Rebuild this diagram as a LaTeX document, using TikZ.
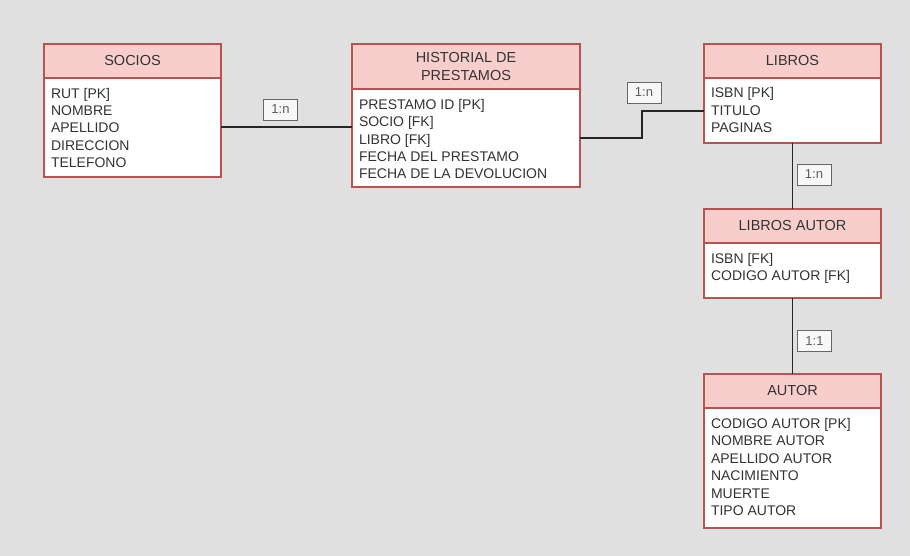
\documentclass[tikz,border=0pt]{standalone}
\usepackage{fontspec}
\setmainfont{Liberation Sans}
\definecolor{bgcol}{HTML}{E0E0E0}
\definecolor{thead}{HTML}{F8CECC}
\definecolor{tborder}{HTML}{B85450}
\definecolor{tcol}{HTML}{333333}
\definecolor{lblfill}{HTML}{F7F7F7}
\definecolor{lbldraw}{HTML}{666666}
\begin{document}
\begin{tikzpicture}[x=1pt,y=-1pt,
  hdr/.style={rectangle, draw=tborder, fill=thead, line width=1.5pt, inner sep=0pt, outer sep=0pt,
    anchor=north west, text=tcol, align=center, font=\fontsize{14.5}{18.4}\selectfont},
  bodybox/.style={rectangle, draw=tborder, fill=white, line width=1.5pt, inner sep=0pt, outer sep=0pt,
    anchor=north west},
  fields/.style={anchor=north west, inner sep=0pt, outer sep=0pt, align=left, text=tcol,
    font=\fontsize{14}{17.5}\selectfont},
  conn/.style={draw=black!85, line width=1.2pt},
  lbl/.style={rectangle, draw=lbldraw, fill=lblfill, line width=0.8pt, minimum width=34pt,
    minimum height=21pt, inner sep=0pt, text=tcol!80, font=\fontsize{13}{15}\selectfont}
]
\useasboundingbox[fill=bgcol] (0,0) rectangle (910,556);

% SOCIOS
\node[hdr, minimum width=177pt, minimum height=34pt] (soc-h) at (44,44) {SOCIOS};
\node[bodybox, minimum width=177pt, minimum height=99pt] (soc-b) at (44,78) {};
\node[fields] (soc-f) at (51,86) {\rule{0pt}{12pt}RUT [PK]\\NOMBRE\\APELLIDO\\DIRECCION\\TELEFONO};

% HISTORIAL
\node[hdr, minimum width=228pt, minimum height=45pt] (his-h) at (352,44) {HISTORIAL DE\\PRESTAMOS};
\node[bodybox, minimum width=228pt, minimum height=98pt] (his-b) at (352,89) {};
\node[fields] (his-f) at (359,97) {\rule{0pt}{12pt}PRESTAMO ID [PK]\\SOCIO [FK]\\LIBRO [FK]\\FECHA DEL PRESTAMO\\FECHA DE LA DEVOLUCION};

% LIBROS
\node[hdr, minimum width=177pt, minimum height=34pt] (lib-h) at (704,44) {LIBROS};
\node[bodybox, minimum width=177pt, minimum height=65pt] (lib-b) at (704,78) {};
\node[fields] (lib-f) at (711,86) {\rule{0pt}{12pt}ISBN [PK]\\TITULO\\PAGINAS};

% LIBROS AUTOR
\node[hdr, minimum width=177pt, minimum height=34pt] (la-h) at (704,209) {LIBROS AUTOR};
\node[bodybox, minimum width=177pt, minimum height=55pt] (la-b) at (704,243) {};
\node[fields] (la-f) at (711,251) {\rule{0pt}{12pt}ISBN [FK]\\CODIGO AUTOR [FK]};

% AUTOR
\node[hdr, minimum width=177pt, minimum height=34pt] (aut-h) at (704,374) {AUTOR};
\node[bodybox, minimum width=177pt, minimum height=120pt] (aut-b) at (704,408) {};
\node[fields] (aut-f) at (711,416) {\rule{0pt}{12pt}CODIGO AUTOR [PK]\\NOMBRE AUTOR\\APELLIDO AUTOR\\NACIMIENTO\\MUERTE\\TIPO AUTOR};

% connectors
\draw[conn] (soc-b.east |- 0,127) -- (his-b.west |- 0,127);
\draw[conn] (his-b.east |- 0,138) -- ++(62,0) |- (lib-b.west |- 0,111);
\draw[conn] (lib-b.south) -- (la-h.north);
\draw[conn] (la-b.south) -- (aut-h.north);

% labels
\node[lbl] (l1) at (280.5,109.5) {1:n};
\node[lbl] (l2) at (644,92.5) {1:n};
\node[lbl] (l3) at (814,174.5) {1:n};
\node[lbl] (l4) at (814.5,341) {1:1};
\end{tikzpicture}
\end{document}
